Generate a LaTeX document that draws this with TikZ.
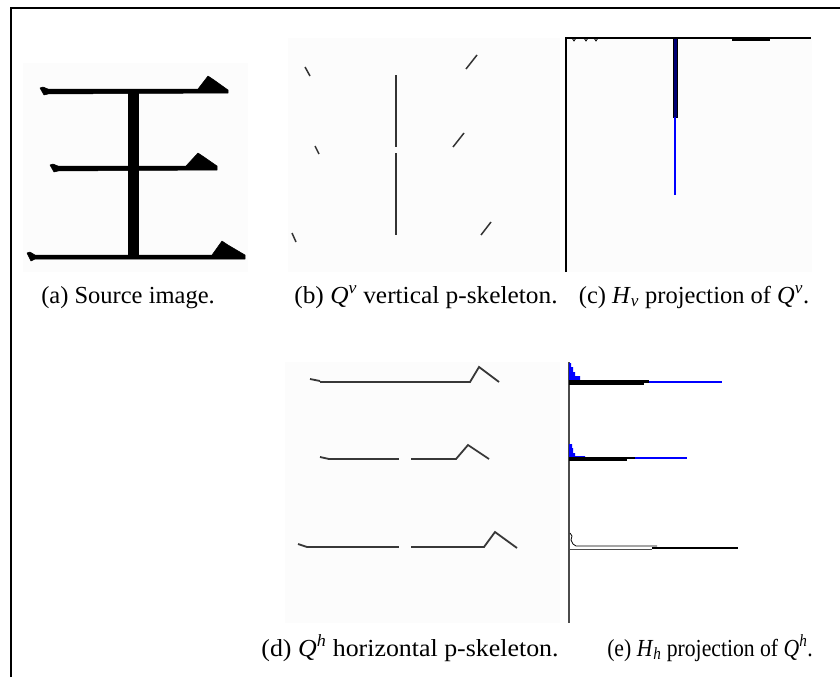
\documentclass[tikz,border=0pt]{standalone}
\usepackage{graphicx}
\usepackage{fontspec}
\setmainfont{Liberation Serif}
\newfontfamily\capfont{Liberation Serif}
\begin{document}
\begin{tikzpicture}[x=1pt,y=-1pt,
  captext/.style={anchor=base,inner sep=0pt,font=\capfont\fontsize{24.5}{28}\selectfont},
  panelbg/.style={fill=gray!2,draw=none},
  skel/.style={line width=1.5pt,draw=black!80},
  dskel/.style={line width=1.8pt,draw=black!78},
  axis/.style={line width=1.6pt,draw=black},
  ink/.style={fill=black,draw=black,line width=0.5pt,line join=round}]
\useasboundingbox (0,0) rectangle (840,677);
\fill[white] (0,0) rectangle (840,677);
% frame
\draw[line width=2pt] (11,677) -- (11,8) -- (840,8);

% ---------- panel (a) ----------
\fill[panelbg] (23,63) rectangle (248,272);
\fill[ink] (40,88) -- (43,87) -- (48,89) -- (198,89) -- (208,76) -- (214,80) -- (228,90) -- (228,93) -- (48,94) -- (44,95) -- cycle;
\fill[ink] (50,165) -- (53,164) -- (58,166) -- (186,166) -- (198,153) -- (204,157) -- (217,166) -- (217,170) -- (58,171) -- (54,172) -- cycle;
\fill[ink] (27,253) -- (30,252) -- (35,255) -- (212,255) -- (222,241) -- (228,245) -- (245,255) -- (245,259) -- (35,259) -- (31,261) -- cycle;
\fill[ink] (128,92) rectangle (138,257);
\node[captext] (capa) at (128,303) {(a) Source image.};

% ---------- panel (b) ----------
\fill[panelbg] (288,38) rectangle (560,272);
\draw[skel] (305,67) -- (310,76);
\draw[skel] (466,69) -- (477,55);
\draw[skel] (396,75) -- (396,147);
\draw[skel] (396,153) -- (396,235);
\draw[skel] (315,146) -- (319,154);
\draw[skel] (453,147) -- (464,133);
\draw[skel] (292,233) -- (296,242);
\draw[skel] (481,235) -- (491,222);
\node[captext] (capb) at (426,303) {\scalebox{1.035}[1]{(b) \textit{Q}\textsuperscript{\textit{v}} vertical p-skeleton.}};

% ---------- panel (c) ----------
\fill[panelbg] (566,38) rectangle (812,272);
\draw[axis] (566,272) -- (566,38) -- (811,38);
\fill[blue!45!black,draw=black,line width=0.6pt] (673,38) rectangle (677,117);
\draw[blue,line width=1.2pt] (675,117) -- (675,195);
\draw[line width=0.8pt] (572,38) -- (574,41) -- (576,38) (584,38) -- (586,41) -- (588,38) (594,38) -- (596,41) -- (598,38);
\fill[black] (732,38) rectangle (770,41);
\node[captext] (capc) at (694,303) {(c) \textit{H}\textsubscript{\textit{v}} projection of \textit{Q}\textsuperscript{\textit{v}}.};

% ---------- panel (d) ----------
\fill[panelbg] (285,362) rectangle (560,623);
\draw[dskel] (310,379) -- (320,381);
\draw[dskel] (320,382) -- (470,382) -- (479,367) -- (499,382);
\draw[dskel] (320,457) -- (329,459);
\draw[dskel] (329,459) -- (399,459);
\draw[dskel] (411,459) -- (456,459) -- (468,445) -- (489,459);
\draw[dskel] (298,544) -- (307,547);
\draw[dskel] (307,547) -- (399,547);
\draw[dskel] (411,547) -- (484,547) -- (495,532) -- (517,548);
\node[captext] (capd) at (410,656) {\scalebox{1.057}[1]{(d) \textit{Q}\textsuperscript{\textit{h}} horizontal p-skeleton.}};

% ---------- panel (e) ----------
\draw[line width=1.6pt,draw=black!70] (569,362) -- (569,623);
\fill[blue] (569,363) -- (571,363) -- (571,367) -- (573,367) -- (573,372) -- (575,372) -- (575,376) -- (580,376) -- (580,380) -- (569,380) -- cycle;
\fill[black] (569,380) rectangle (649,383);
\fill[black] (569,383) rectangle (644,385);
\draw[blue,line width=2pt] (649,381.5) -- (722,381.5);
\fill[blue] (569,444) -- (572,444) -- (572,448) -- (573,448) -- (573,453) -- (575,453) -- (575,456) -- (585,456) -- (585,458) -- (569,458) -- cycle;
\fill[black] (569,457) rectangle (635,459);
\fill[black] (569,459) rectangle (627,461);
\draw[blue,line width=1.8pt] (635,458) -- (687,458);
\draw[line width=0.8pt] (570,533) -- (572,536) -- (571,540) -- (573,544) -- (576,546) -- (657,546);
\draw[black!70,line width=0.9pt] (569,549) -- (652,549);
\draw[line width=1.4pt] (652,548) -- (738,548);
\node[captext] (cape) at (710,656) {\scalebox{0.885}[1]{(e) \textit{H}\textsubscript{\textit{h}} projection of \textit{Q}\textsuperscript{\textit{h}}.}};
\end{tikzpicture}
\end{document}
